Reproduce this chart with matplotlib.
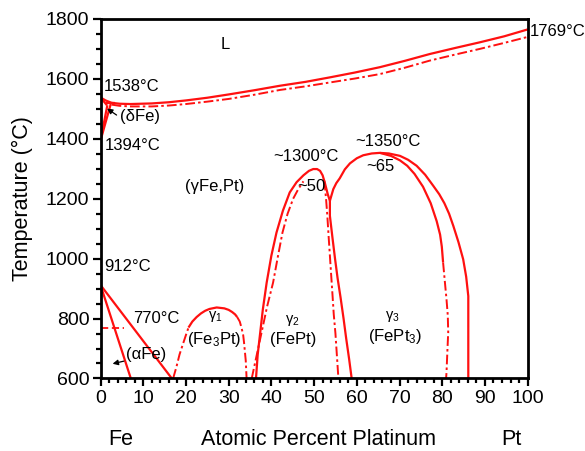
import matplotlib
matplotlib.use('Agg')
import matplotlib.pyplot as plt
from matplotlib.ticker import MultipleLocator

plt.rcParams['font.family'] = ['Liberation Sans', 'DejaVu Sans']
plt.rcParams['mathtext.default'] = 'regular'

RED = '#ff1010'
DASHDOT = (0, (5, 1.6, 1.3, 1.6))

# liquidus / solidus
liq_x = [0, 1.2, 2.6, 4.5, 7, 12, 16, 20, 25, 30, 36, 42, 48, 53.7, 59.5, 65.4, 71.2, 77.1, 83, 88.8, 94.5, 100]
liq_t = [1538, 1528, 1520, 1517, 1516, 1518, 1522, 1528, 1537, 1548, 1562, 1577, 1590, 1605, 1621, 1639, 1660, 1683, 1703, 1722, 1742, 1765]
sol_x = [2.6, 4.5, 7, 12, 16, 20, 25, 30, 36, 42, 48, 53.7, 59.5, 65.4, 71.2, 77.1, 83, 88.8, 94.5, 100]
sol_t = [1514, 1510, 1508, 1508, 1511, 1516, 1524, 1533, 1547, 1563, 1575, 1588, 1601, 1616, 1637, 1661, 1681, 1700, 1720, 1740]

# delta-Fe corner
delta_a_x = [0, 2.4]
delta_a_t = [1394, 1516]
delta_b_x = [0, 1.6]
delta_b_t = [1394, 1512]
delta_top_x = [0, 1.5]
delta_top_t = [1538, 1512]
perit_x = [1.3, 3.4]
perit_t = [1518, 1518]

# alpha-Fe boundaries and Curie line
alpha_l_x = [0, 7.1]
alpha_l_t = [912, 600]
alpha_r_x = [0, 16.7]
alpha_r_t = [912, 600]
curie_x = [0, 5.5]
curie_t = [770, 770]

# gamma1 (Fe3Pt)
g1_x = [17.0, 17.8, 18.5, 19.3, 20.0, 20.6, 21.5, 22.5, 23.5, 24.5, 25.5, 27.2, 29.0, 30.0,
        30.8, 31.5, 32.0, 32.6, 33.0, 33.4, 33.6, 33.8, 34.0, 34.2]
g1_t = [600, 640, 680, 715, 745, 770, 790, 805, 817, 826, 832, 837, 834, 829,
        822, 814, 805, 790, 770, 745, 720, 690, 660, 600]

# gamma2 (FePt)
g2_out_x = [36.4, 36.8, 37.3, 38.0, 38.9, 40.0, 41.2, 42.7, 44.3, 45.9, 47.5, 48.8, 49.8,
            50.7, 51.4, 52.0, 52.5, 53.2, 53.7]
g2_out_t = [600, 680, 742, 830, 920, 1010, 1087, 1160, 1221, 1255, 1278, 1293, 1299,
            1299, 1293, 1278, 1254, 1215, 1193]
g2_in_l_x = [35.4, 36.0, 36.6, 37.2, 37.8, 38.4, 39.0, 39.7, 40.4, 41.5, 42.6, 43.8, 45.1, 46.3, 47.5]
g2_in_l_t = [600, 640, 680, 720, 760, 800, 840, 880, 920, 1005, 1087, 1150, 1200, 1232, 1258]
g2_in_r_x = [52.4, 52.8, 53.1, 53.4, 53.7, 54.0, 54.3, 54.6, 55.0, 55.3, 55.6, 55.7]
g2_in_r_t = [1260, 1200, 1143, 1075, 1010, 945, 881, 815, 750, 685, 620, 600]
g2_r_x = [53.7, 53.7, 54.3, 54.9, 55.5, 56.2, 56.9, 57.5, 58.2, 58.8]
g2_r_t = [1193, 1143, 1070, 1000, 935, 870, 800, 735, 665, 600]

# gamma3 (FePt3)
g3_out_x = [53.7, 54.5, 55.2, 56.0, 57.2, 58.4, 60.0, 61.5, 63.5, 65.4, 67.5, 70.1, 72.0, 74.0,
            76.0, 77.9, 79.3, 80.5, 81.6, 82.6, 83.8, 84.9, 85.6, 86.1, 86.1]
g3_out_t = [1193, 1232, 1252, 1268, 1298, 1318, 1335, 1345, 1351, 1353, 1351, 1343, 1330, 1310,
            1280, 1243, 1215, 1185, 1150, 1109, 1055, 998, 940, 875, 600]
g3_in_x = [65.4, 68.0, 70.1, 71.8, 73.5, 75.5, 77.3, 78.7, 79.5, 79.9, 80.2]
g3_in_t = [1353, 1343, 1328, 1310, 1283, 1240, 1185, 1125, 1080, 1040, 987]
g3_in_low_x = [80.2, 80.6, 81.0, 81.3, 81.4, 81.2, 81.0, 80.9]
g3_in_low_t = [987, 925, 864, 810, 754, 690, 620, 600]

fig = plt.figure(figsize=(5.85, 4.51), dpi=100)
ax = fig.add_axes([0.1718, 0.1608, 0.7302, 0.7972])

def solid(x, t):
    ax.plot(x, t, color=RED, lw=1.6, solid_capstyle='butt', solid_joinstyle='round')

def dashdot(x, t):
    ax.plot(x, t, color=RED, lw=1.4, linestyle=DASHDOT)

solid(liq_x, liq_t)
dashdot(sol_x, sol_t)
solid(delta_a_x, delta_a_t)
solid(delta_b_x, delta_b_t)
solid(delta_top_x, delta_top_t)
solid(perit_x, perit_t)
solid(alpha_l_x, alpha_l_t)
solid(alpha_r_x, alpha_r_t)
ax.plot(curie_x, curie_t, color=RED, lw=1.3, linestyle=(0, (4, 2)))

# Fe3Pt dome: dash-dot flanks, solid cap
dashdot(g1_x[:6], g1_t[:6])
solid(g1_x[5:17], g1_t[5:17])
dashdot(g1_x[16:], g1_t[16:])

solid(g2_out_x, g2_out_t)
dashdot(g2_in_l_x, g2_in_l_t)
dashdot(g2_in_r_x, g2_in_r_t)
solid(g2_r_x, g2_r_t)

solid(g3_out_x, g3_out_t)
solid(g3_in_x, g3_in_t)
dashdot(g3_in_low_x, g3_in_low_t)

ax.set_xlim(0, 100)
ax.set_ylim(600, 1800)
ax.xaxis.set_major_locator(MultipleLocator(10))
ax.xaxis.set_minor_locator(MultipleLocator(2))
ax.yaxis.set_major_locator(MultipleLocator(200))
ax.yaxis.set_minor_locator(MultipleLocator(50))
ax.tick_params(which='both', direction='out', width=1.6, top=False, right=False,
               labelsize=14, pad=2)
ax.tick_params(which='major', length=6)
ax.tick_params(which='minor', length=3.5)
for s in ax.spines.values():
    s.set_linewidth(2)

ax.set_ylabel('Temperature (\u00b0C)', fontsize=15.5)
ax.yaxis.set_label_coords(-0.158, 0.5)

# composition labels below the axis
tr = ax.get_xaxis_transform()
ax.text(4.7, -0.17, 'Fe', transform=tr, ha='center', va='center', fontsize=15.5)
ax.text(51, -0.17, 'Atomic Percent Platinum', transform=tr, ha='center', va='center', fontsize=15.5)
ax.text(96.1, -0.17, 'Pt', transform=tr, ha='center', va='center', fontsize=15.5)

fs = 12
ax.text(29.1, 1716, 'L', ha='center', va='center', fontsize=fs)
ax.text(0.8, 1576, '1538\u00b0C', ha='left', va='center', fontsize=fs)
ax.text(0.9, 1376, '1394\u00b0C', ha='left', va='center', fontsize=fs)
ax.text(100.5, 1757, '1769\u00b0C', ha='left', va='center', fontsize=fs, clip_on=False)
ax.text(4.6, 1476, '(\u03b4Fe)', ha='left', va='center', fontsize=fs)
ax.text(26.8, 1242, '(\u03b3Fe,Pt)', ha='center', va='center', fontsize=fs)
ax.text(48.2, 1342, '~1300\u00b0C', ha='center', va='center', fontsize=fs)
ax.text(49.4, 1242, '~50', ha='center', va='center', fontsize=fs)
ax.text(67.2, 1392, '~1350\u00b0C', ha='center', va='center', fontsize=fs)
ax.text(65.6, 1309, '~65', ha='center', va='center', fontsize=fs)
ax.text(0.8, 974, '912\u00b0C', ha='left', va='center', fontsize=fs)
ax.text(7.6, 800, '770\u00b0C', ha='left', va='center', fontsize=fs)
ax.text(10.6, 680, '(\u03b1Fe)', ha='center', va='center', fontsize=fs)

ax.text(26.8, 806, r'$\gamma_1$', ha='center', va='center', fontsize=10.5)
ax.text(26.6, 730, '(Fe$_3$Pt)', ha='center', va='center', fontsize=fs)
ax.text(45.0, 793, r'$\gamma_2$', ha='center', va='center', fontsize=10.5)
ax.text(45.0, 730, '(FePt)', ha='center', va='center', fontsize=fs)
ax.text(68.4, 806, r'$\gamma_3$', ha='center', va='center', fontsize=10.5)
ax.text(68.9, 740, '(FePt$_3$)', ha='center', va='center', fontsize=fs)

arrow = dict(arrowstyle='-|>', color='k', lw=0.9, mutation_scale=8)
ax.annotate('', xy=(1.0, 1506), xytext=(4.3, 1474), arrowprops=arrow)
ax.annotate('', xy=(2.2, 647), xytext=(6.1, 660), arrowprops=arrow)

fig.savefig('out.png', dpi=100)
